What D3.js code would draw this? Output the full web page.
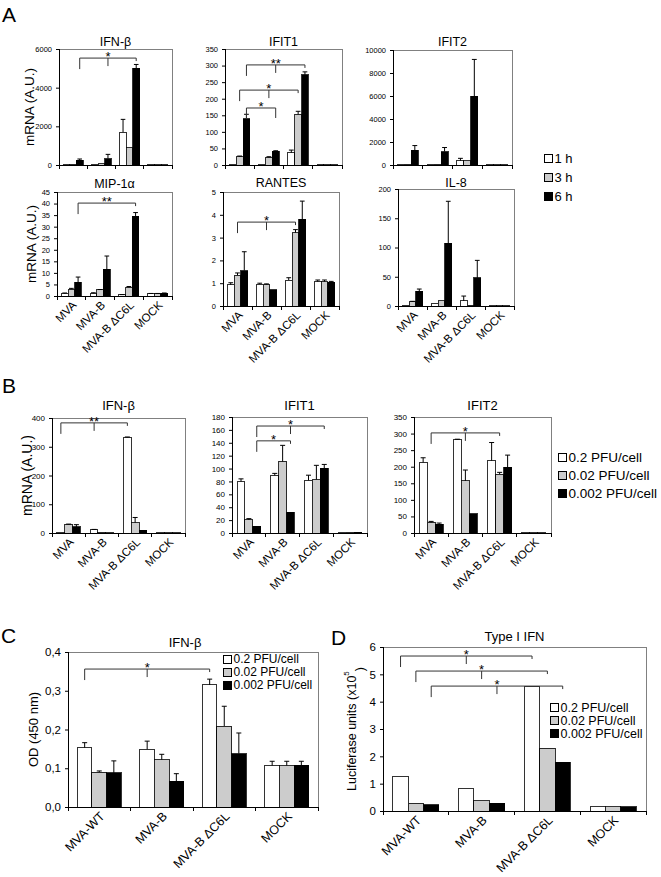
<!DOCTYPE html>
<html><head><meta charset="utf-8">
<script src="https://cdn.jsdelivr.net/npm/d3@7"></script>
<style>
body{margin:0;background:#fff;}
svg{display:block;font-family:"Liberation Sans",Arial,sans-serif;}
</style></head>
<body>
<svg id="c" width="661" height="877"></svg>
<script>
// ---------- DATA ----------
const groupsAB = ["MVA", "MVA-B", "MVA-B ΔC6L", "MOCK"];
const groupsCD = ["MVA-WT", "MVA-B", "MVA-B ΔC6L", "MOCK"];
const seriesA = ["1 h", "3 h", "6 h"];
const seriesB = ["0.2 PFU/cell", "0.02 PFU/cell", "0.002 PFU/cell"];

// Panel A (rows: groups, cols: 1 h, 3 h, 6 h)
const aIfnbVals = [[20, 30, 250], [20, 60, 330], [1700, 900, 5000], [5, 5, 5]];
const aIfnbErr  = [[0, 0, 60], [0, 0, 220], [660, 0, 200], [0, 0, 0]];
const aIfit1Vals = [[2, 25, 140], [3, 23, 41], [37, 153, 272], [1, 1, 1]];
const aIfit1Err  = [[0, 2, 13], [0, 2, 2], [8, 9, 9], [0, 0, 0]];
const aIfit2Vals = [[30, 80, 1280], [40, 70, 1170], [380, 350, 5980], [5, 5, 5]];
const aIfit2Err  = [[0, 0, 410], [0, 0, 350], [200, 0, 3200], [0, 0, 0]];
const aMipVals = [[1.1, 3.0, 6.0], [1.2, 2.6, 11.5], [0.5, 3.8, 34.6], [1.0, 1.0, 1.2]];
const aMipErr  = [[0.2, 0.3, 2.2], [0.2, 0.2, 5.8], [0.1, 0.3, 1.5], [0.1, 0.1, 0.1]];
const aRantesVals = [[0.93, 1.35, 1.55], [0.96, 0.95, 0.72], [1.14, 3.22, 3.8], [1.07, 1.07, 1.05]];
const aRantesErr  = [[0.09, 0.1, 0.83], [0.04, 0.02, 0], [0.1, 0.13, 0.8], [0.07, 0.07, 0.03]];
const aIl8Vals = [[1, 7, 25], [4.6, 9, 107], [8.6, 1, 48], [0.5, 0.5, 0.5]];
const aIl8Err  = [[0, 1, 4], [0, 0, 72], [8.4, 0, 30], [0, 0, 0]];

// Panel B (cols: 0.2, 0.02, 0.002 PFU/cell)
const bIfnbVals = [[2, 30, 21], [10.5, 3, 1], [333, 36, 9], [1, 1, 1]];
const bIfnbErr  = [[0, 1, 8], [2, 0, 0], [1, 18, 0], [0, 0, 0]];
const bIfit1Vals = [[80, 20.3, 10.5], [89.5, 111, 32], [81.7, 83, 100.4], [1, 1, 1]];
const bIfit1Err  = [[4, 2, 0], [3, 25, 0], [8, 22, 6], [0, 0, 0]];
const bIfit2Vals = [[213, 32, 26], [282, 157, 58], [218, 178, 198], [1, 1, 1]];
const bIfit2Err  = [[14, 3, 4], [1, 33, 0], [55, 5, 37], [0, 0, 0]];

// Panel C (OD 450 nm)
const cVals = [[0.153, 0.090, 0.088], [0.149, 0.122, 0.066], [0.315, 0.209, 0.138], [0.107, 0.107, 0.108]];
const cErr  = [[0.013, 0.003, 0.031], [0.021, 0.014, 0.020], [0.015, 0.051, 0.053], [0.011, 0.011, 0.010]];

// Panel D (Luciferase units x10^5)
const dVals = [[1.28, 0.28, 0.22], [0.82, 0.37, 0.28], [4.54, 2.29, 1.78], [0.16, 0.16, 0.16]];

// Tick values
const ticksAIfnb = [0, 2000, 4000, 6000];
const ticksAIfit1 = [0, 50, 100, 150, 200, 250, 300, 350];
const ticksAIfit2 = [0, 2000, 4000, 6000, 8000, 10000];
const ticksAMip = [0, 5, 10, 15, 20, 25, 30, 35, 40, 45];
const ticksARantes = [0, 1, 2, 3, 4, 5];
const ticksAIl8 = [0, 50, 100, 150, 200];
const ticksBIfnb = [0, 100, 200, 300, 400];
const ticksBIfit1 = [0, 20, 40, 60, 80, 100, 120, 140, 160, 180];
const ticksBIfit2 = [0, 50, 100, 150, 200, 250, 300, 350];
const ticksC = [0, 0.1, 0.2, 0.3, 0.4];
const ticksD = [0, 1, 2, 3, 4, 5, 6];

// Significance brackets: from/to = [group index, series index], level in data units
const brAIfnb = [{from: [0, 2], to: [2, 2], level: 5530, label: "*", mid: true}];
const brAIfit1 = [
  {from: [0, 2], to: [2, 2], level: 302, label: "**", mid: true},
  {from: [0, 1], to: [2, 1], level: 226, label: "*", mid: true},
  {from: [0, 2], to: [1, 2], level: 172, label: "*", mid: false, even: true}
];
const brAMip = [{from: [0, 2], to: [2, 2], level: 40.2, label: "**", mid: false}];
const brARantes = [{from: [0, 1], to: [2, 1], level: 3.68, label: "*", mid: true}];
const brBIfnb = [{from: [0, 0], to: [2, 0], level: 383, label: "**", mid: true}];
const brBIfit1 = [
  {from: [0, 2], to: [2, 2], level: 166, label: "*", mid: true},
  {from: [0, 2], to: [1, 2], level: 143, label: "*", mid: false}
];
const brBIfit2 = [{from: [0, 1], to: [2, 1], level: 302, label: "*", mid: true}];
const brC = [{from: [0, 0], to: [2, 0], level: 0.356, label: "*", mid: true}];
const brD = [
  {from: [0, 0], to: [2, 0], level: 5.67, label: "*", mid: true},
  {from: [0, 1], to: [2, 1], level: 5.12, label: "*", mid: true},
  {from: [0, 2], to: [2, 2], level: 4.57, label: "*", mid: true}
];

// ---------- DRAWING ----------
const svg = d3.select("#c");
const fills = ["#ffffff", "#cccccc", "#000000"];

function chart(o) {
  const g = svg.append("g");
  const x = d3.scaleBand().domain(o.cats).range([o.x0, o.x1]);
  const gw = x.bandwidth() * 0.7;
  const xs = d3.scaleBand().domain([0, 1, 2]).range([0, gw]);
  const y = d3.scaleLinear().domain([0, o.ticks[o.ticks.length - 1]]).range([o.yb, o.yt]);
  const bx = (i, j) => x(o.cats[i]) + (x.bandwidth() - gw) / 2 + xs(j);
  const bc = (i, j) => bx(i, j) + xs.bandwidth() / 2;

  // frame (top/right in gray)
  g.append("rect").attr("x", o.x0).attr("y", o.yt).attr("width", o.x1 - o.x0)
    .attr("height", o.yb - o.yt).attr("fill", "none").attr("stroke", "#808080")
    .attr("stroke-width", 1).attr("shape-rendering", "crispEdges");

  // bars
  o.vals.forEach((row, i) => row.forEach((v, j) => {
    g.append("rect").attr("x", bx(i, j)).attr("y", y(v)).attr("width", xs.bandwidth())
      .attr("height", Math.max(0, o.yb - y(v))).attr("fill", fills[j])
      .attr("stroke", "#000").attr("stroke-width", 0.8).attr("shape-rendering", "crispEdges");
    const e = o.errs ? o.errs[i][j] : 0;
    if (e > 0) {
      const cx = bc(i, j), cw = Math.min(5, xs.bandwidth() * 0.7) / 2;
      g.append("line").attr("x1", cx).attr("x2", cx).attr("y1", y(v)).attr("y2", y(v + e))
        .attr("stroke", "#000").attr("stroke-width", 1);
      g.append("line").attr("x1", cx - cw).attr("x2", cx + cw).attr("y1", y(v + e)).attr("y2", y(v + e))
        .attr("stroke", "#000").attr("stroke-width", 1);
    }
  }));

  // y axis
  const ya = g.append("g").attr("transform", `translate(${o.x0},0)`)
    .call(d3.axisLeft(y).tickValues(o.ticks).tickSize(3).tickPadding(4)
      .tickFormat(o.fmt || (d => d)));
  ya.select(".domain").attr("stroke", "#000").attr("shape-rendering", "crispEdges");
  ya.selectAll(".tick line").attr("stroke", "#000");
  ya.selectAll("text").attr("font-size", o.tickFs).attr("fill", "#000")
    .attr("font-family", "Liberation Sans, Arial, sans-serif");

  // x axis with ticks at category boundaries
  const xa = g.append("g").attr("transform", `translate(0,${o.yb})`)
    .call(d3.axisBottom(x).tickSize(0).tickFormat(""));
  xa.select(".domain").attr("stroke", "#000").attr("shape-rendering", "crispEdges");
  o.cats.concat(["end"]).forEach((c, k) => {
    const xx = k < o.cats.length ? x(c) : o.x1;
    g.append("line").attr("x1", xx).attr("x2", xx).attr("y1", o.yb).attr("y2", o.yb + 4)
      .attr("stroke", "#000").attr("shape-rendering", "crispEdges");
  });
  if (o.catLabels) {
    o.cats.forEach(c => {
      g.append("text").attr("transform",
        `translate(${x(c) + x.bandwidth() / 2 + 3},${o.yb + 7}) rotate(-45)`)
        .attr("text-anchor", "end").attr("dy", "0.35em").attr("font-size", o.catFs).text(c);
    });
  }

  // title
  g.append("text").attr("x", o.titleX !== undefined ? o.titleX : (o.x0 + o.x1) / 2)
    .attr("y", o.titleY).attr("text-anchor", "middle").attr("font-size", o.titleFs).text(o.title);

  // brackets
  (o.brackets || []).forEach(b => {
    const xl = bc(b.from[0], b.from[1]), xr = bc(b.to[0], b.to[1]);
    const yy = y(b.level), xm = (xl + xr) / 2;
    const rd = b.even ? 10 : 3;
    const p = d3.path();
    p.moveTo(xl, yy + 11); p.lineTo(xl, yy); p.lineTo(xr, yy); p.lineTo(xr, yy + rd);
    if (b.mid) { p.moveTo(xm, yy); p.lineTo(xm, yy + 8); }
    g.append("path").attr("d", p.toString()).attr("fill", "none").attr("stroke", "#333")
      .attr("stroke-width", 1);
    g.append("text").attr("x", xm).attr("y", yy + 3).attr("text-anchor", "middle")
      .attr("font-size", 13).text(b.label);
  });

  // y label
  if (o.ylabel) {
    const t = g.append("text").attr("transform", `translate(${o.ylabelX},${(o.yt + o.yb) / 2}) rotate(-90)`)
      .attr("text-anchor", "middle").attr("dy", "0.35em").attr("font-size", o.ylabelFs);
    o.ylabel(t);
  }
  return {x, y};
}

function legend(x, ys, labels, fs, sq) {
  labels.forEach((l, j) => {
    svg.append("rect").attr("x", x).attr("y", ys[j] - sq / 2).attr("width", sq).attr("height", sq)
      .attr("fill", fills[j]).attr("stroke", "#000").attr("stroke-width", 1)
      .attr("shape-rendering", "crispEdges");
    svg.append("text").attr("x", x + sq + 2.5).attr("y", ys[j]).attr("dy", "0.36em")
      .attr("font-size", fs).text(l);
  });
}
function letter(t, x, y) {
  svg.append("text").attr("x", x).attr("y", y).attr("font-size", 21).text(t);
}
const mrna = t => t.text("mRNA (A.U.)");

// ----- Panel A -----
letter("A", 2, 22);
const aBase = {cats: groupsAB, tickFs: 7.5, titleFs: 12.5, catFs: 11.5, ylabelFs: 13.5};
chart({...aBase, x0: 59, x1: 172, yt: 49, yb: 165, vals: aIfnbVals, errs: aIfnbErr, ticks: ticksAIfnb,
  title: "IFN-β", titleY: 46, brackets: brAIfnb, ylabel: mrna, ylabelX: 29});
chart({...aBase, x0: 225, x1: 342, yt: 49, yb: 165, vals: aIfit1Vals, errs: aIfit1Err, ticks: ticksAIfit1,
  title: "IFIT1", titleY: 46, brackets: brAIfit1});
chart({...aBase, x0: 393, x1: 512, yt: 50, yb: 165, vals: aIfit2Vals, errs: aIfit2Err, ticks: ticksAIfit2,
  title: "IFIT2", titleY: 46});
chart({...aBase, x0: 57, x1: 172, yt: 192, yb: 296, vals: aMipVals, errs: aMipErr, ticks: ticksAMip,
  title: "MIP-1α", titleY: 188, brackets: brAMip, catLabels: true, ylabel: mrna, ylabelX: 31});
chart({...aBase, x0: 223, x1: 339, yt: 192, yb: 306, vals: aRantesVals, errs: aRantesErr, ticks: ticksARantes,
  title: "RANTES", titleY: 187, brackets: brARantes, catLabels: true});
chart({...aBase, x0: 398, x1: 514, yt: 189, yb: 306, vals: aIl8Vals, errs: aIl8Err, ticks: ticksAIl8,
  title: "IL-8", titleY: 187, catLabels: true});
legend(544, [158, 177, 196], seriesA, 13, 8);

// ----- Panel B -----
letter("B", 2, 393);
const bBase = {cats: groupsAB, tickFs: 8, titleFs: 13, catFs: 11.5, ylabelFs: 14, catLabels: true};
chart({...bBase, x0: 52, x1: 185, yt: 418, yb: 533, vals: bIfnbVals, errs: bIfnbErr, ticks: ticksBIfnb,
  title: "IFN-β", titleY: 410, brackets: brBIfnb, ylabel: mrna, ylabelX: 27});
chart({...bBase, x0: 232, x1: 367, yt: 417, yb: 533, vals: bIfit1Vals, errs: bIfit1Err, ticks: ticksBIfit1,
  title: "IFIT1", titleY: 410, brackets: brBIfit1});
chart({...bBase, x0: 414, x1: 551, yt: 417, yb: 533, vals: bIfit2Vals, errs: bIfit2Err, ticks: ticksBIfit2,
  title: "IFIT2", titleY: 410, brackets: brBIfit2});
legend(558, [457, 475, 493], seriesB, 13.5, 8);

// ----- Panel C -----
letter("C", 1, 643);
chart({cats: groupsCD, x0: 68, x1: 318, yt: 652, yb: 807, vals: cVals, errs: cErr, ticks: ticksC,
  fmt: d => d3.format(".1f")(d).replace(".", ","), tickFs: 11.5, title: "IFN-β", titleX: 185, titleY: 647,
  titleFs: 13, catFs: 12.5, catLabels: true, brackets: brC, ylabelFs: 13, ylabelX: 33,
  ylabel: t => t.text("OD (450 nm)")});
legend(223, [659, 672, 685], seriesB, 12, 8);

// ----- Panel D -----
letter("D", 331, 645);
chart({cats: groupsCD, x0: 383, x1: 646, yt: 647, yb: 811, vals: dVals, errs: null, ticks: ticksD,
  tickFs: 11.5, title: "Type I IFN", titleY: 641, titleFs: 13, catFs: 12.5, catLabels: true,
  brackets: brD, ylabelFs: 12.5, ylabelX: 352,
  ylabel: t => { t.append("tspan").text("Luciferase units (x10");
                 t.append("tspan").attr("font-size", 8).attr("dy", "-0.9em").text("5");
                 t.append("tspan").attr("dy", "1.2em").text(")"); }});
legend(550, [707, 720, 733], seriesB, 12.5, 8);
</script>
</body></html>
